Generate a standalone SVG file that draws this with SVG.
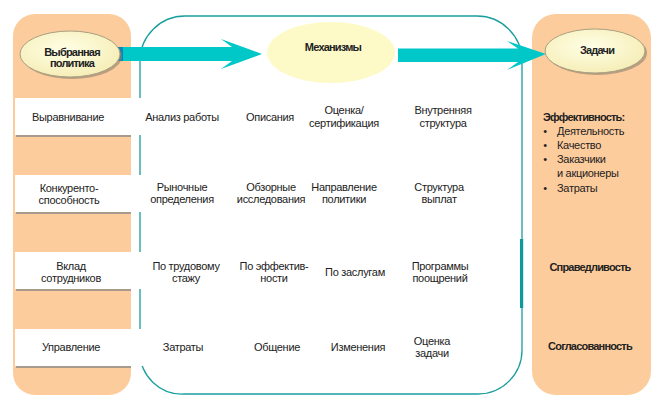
<svg xmlns="http://www.w3.org/2000/svg" width="664" height="404" viewBox="0 0 664 404">
<defs>
<style>
.t{font-family:"Liberation Sans",Arial,sans-serif;font-size:11px;letter-spacing:-0.3px;fill:#222;text-anchor:middle}
.b{font-family:"Liberation Sans",Arial,sans-serif;font-size:11px;letter-spacing:-0.8px;font-weight:bold;fill:#222;text-anchor:middle}
.l{text-anchor:start}
.panel{fill:#FDCC9C}
.band{fill:#FFFFFF}
.bshadow{fill:#A89A8C}
.ell{fill:url(#eg);stroke:#A8A080;stroke-width:1}
.esh{fill:#8C7E70;opacity:0.6}
.box{fill:none;stroke:#1A9E9E;stroke-width:1.3}
.arr{fill:#00C8C8}
</style>
<radialGradient id="eg" cx="45%" cy="40%" r="60%">
<stop offset="0" stop-color="#FFFFE6"/>
<stop offset="1" stop-color="#F6EEB8"/>
</radialGradient>
</defs>
<rect width="664" height="404" fill="#FFFFFF"/>

<g id="left-panel">
<rect class="panel" x="13" y="14" width="118" height="381" rx="22" ry="22"/>
</g>
<g id="right-panel">
<rect class="panel" x="532" y="14" width="119" height="381" rx="24" ry="24"/>
</g>

<g id="mechanisms-box">
<path class="box" d="M185,16 H477 A45,45 0 0 1 522,61 V350 A44,44 0 0 1 478,394 H184 A42,42 0 0 1 140,352 V61 A45,45 0 0 1 185,16 Z"/>
<rect x="520" y="239" width="3.2" height="69" fill="#0E9A9A"/>
</g>

<g id="bands">
<rect class="bshadow" x="16" y="100" width="115" height="37"/>
<rect class="band" x="15" y="98" width="131" height="37"/>
<rect class="bshadow" x="16" y="177" width="115" height="37"/>
<rect class="band" x="15" y="175" width="131" height="37"/>
<rect class="bshadow" x="16" y="254" width="115" height="37"/>
<rect class="band" x="15" y="252" width="131" height="37"/>
<rect class="bshadow" x="16" y="331" width="115" height="37"/>
<rect class="band" x="15" y="329" width="131" height="37"/>
</g>

<g id="connectors">
<rect x="116" y="47" width="8" height="14" fill="#0A86B8"/>
<path class="arr" d="M123,47 H232 L221,39 L262,54 L221,69 L232,61 H123 Z"/>
<path class="arr" d="M398,48.5 H518 L507,41 L546,54 L507,70 L518,62 H398 Z"/>
</g>

<g id="node-policy">
<ellipse class="esh" cx="72" cy="56" rx="50" ry="23"/>
<ellipse class="ell" cx="70" cy="54" rx="50" ry="23"/>
<text class="b" x="72" y="55.5">Выбранная</text>
<text class="b" x="72" y="67">политика</text>
</g>

<g id="node-mechanisms">
<ellipse cx="331" cy="52.5" rx="64" ry="30.5" fill="#FDFAC8"/>
<text class="b" x="333" y="51">Механизмы</text>
</g>

<g id="node-tasks">
<ellipse class="esh" cx="597" cy="53" rx="50" ry="22"/>
<ellipse class="ell" cx="595" cy="51" rx="50" ry="22"/>
<text class="b" x="597" y="54">Задачи</text>
</g>

<g id="row1">
<text class="t" x="68" y="121">Выравнивание</text>
<text class="t" x="182" y="121">Анализ работы</text>
<text class="t" x="270" y="121">Описания</text>
<text class="t" x="344" y="114">Оценка/</text>
<text class="t" x="344" y="127">сертификация</text>
<text class="t" x="443" y="114">Внутренняя</text>
<text class="t" x="443" y="127">структура</text>
</g>

<g id="row2">
<text class="t" x="69" y="192">Конкуренто-</text>
<text class="t" x="69" y="204">способность</text>
<text class="t" x="182" y="191">Рыночные</text>
<text class="t" x="182" y="203">определения</text>
<text class="t" x="271" y="191">Обзорные</text>
<text class="t" x="271" y="203">исследования</text>
<text class="t" x="344" y="191">Направление</text>
<text class="t" x="344" y="203">политики</text>
<text class="t" x="439" y="191">Структура</text>
<text class="t" x="439" y="203">выплат</text>
</g>

<g id="row3">
<text class="t" x="71" y="270">Вклад</text>
<text class="t" x="71" y="282">сотрудников</text>
<text class="t" x="186" y="270">По трудовому</text>
<text class="t" x="186" y="282">стажу</text>
<text class="t" x="274" y="270">По эффектив-</text>
<text class="t" x="274" y="282">ности</text>
<text class="t" x="355" y="276">По заслугам</text>
<text class="t" x="440" y="270">Программы</text>
<text class="t" x="440" y="282">поощрений</text>
</g>

<g id="row4">
<text class="t" x="71" y="351">Управление</text>
<text class="t" x="183" y="351">Затраты</text>
<text class="t" x="277" y="351">Общение</text>
<text class="t" x="358" y="351">Изменения</text>
<text class="t" x="432" y="345">Оценка</text>
<text class="t" x="432" y="357">задачи</text>
</g>

<g id="tasks-list">
<text class="b l" x="543" y="121">Эффективность:</text>
<text class="t" x="545" y="135">•</text>
<text class="t l" x="557" y="135">Деятельность</text>
<text class="t" x="545" y="149">•</text>
<text class="t l" x="557" y="149">Качество</text>
<text class="t" x="545" y="163">•</text>
<text class="t l" x="557" y="163">Заказчики</text>
<text class="t l" x="557" y="177">и акционеры</text>
<text class="t" x="545" y="192">•</text>
<text class="t l" x="557" y="192">Затраты</text>
<text class="b" x="590" y="271">Справедливость</text>
<text class="b" x="590" y="350">Согласованность</text>
</g>
</svg>
